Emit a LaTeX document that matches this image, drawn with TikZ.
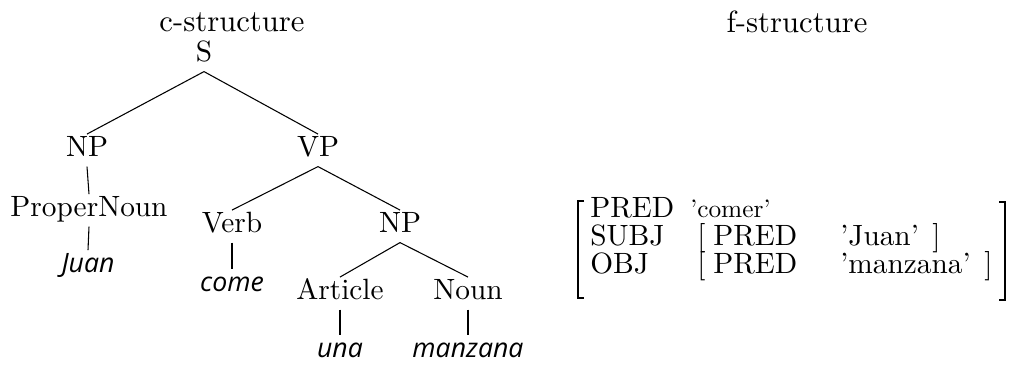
\documentclass[tikz,border=0pt]{standalone}
\usepackage{fontspec}
\setmainfont{lmroman10-regular}[Extension=.otf]
\newfontfamily\leaffont{Open Sans}
\usepackage{tikz}
\usetikzlibrary{positioning}

\tikzset{
  cat/.style={anchor=base, inner sep=2pt, text height=15pt, text depth=5pt, font=\fontsize{22}{26}\selectfont},
  leaf/.style={anchor=base, inner sep=2pt, text height=15pt, text depth=4pt, font=\leaffont\itshape\fontsize{20}{24}\selectfont},
  title/.style={anchor=base, inner sep=0pt, font=\fontsize{23}{27}\selectfont},
  branch/.style={line width=0.8pt},
  feat/.style={anchor=base west, inner sep=0pt, font=\fontsize{22}{26}\selectfont},
  fval/.style={anchor=base west, inner sep=0pt, font=\fontsize{19}{22}\selectfont},
  brack/.style={line width=1pt}
}

\begin{document}
\begin{tikzpicture}[x=0.75pt,y=0.75pt,yscale=-1,xscale=1]
		\useasboundingbox (0,0) rectangle (1009,373);

		% Titles
		\draw (232,32) node [title] (ctitle) {c-structure};
		\draw (797,33) node [title] (ftitle) {f-structure};

		% c-structure: category nodes
		\draw (204,62) node [cat] (S) {S};
		\draw (87,157) node [cat] (NP) {NP};
		\draw (318,157) node [cat] (VP) {VP};
		\draw (89,217) node [cat] (PN) {ProperNoun};
		\draw (232,233) node [cat] (V) {Verb};
		\draw (400,233) node [cat] (NPo) {NP};
		\draw (340,300) node [cat] (Art) {Article};
		\draw (468,300) node [cat] (N) {Noun};

		% c-structure: words
		\draw (88,273) node [leaf] (juan) {Juan};
		\draw (232,292) node [leaf] (come) {come};
		\draw (340,358) node [leaf] (una) {una};
		\draw (468,358) node [leaf] (manzana) {manzana};

		% Branches
		\draw [branch] (S.south) -- (NP.north);
		\draw [branch] (S.south) -- (VP.north);
		\draw [branch] (NP.south) -- (PN.north);
		\draw [branch] (PN.south) -- (juan.north);
		\draw [branch] (VP.south) -- (V.north);
		\draw [branch] (VP.south) -- (NPo.north);
		\draw [branch] (V.south) -- (come.north);
		\draw [branch] (NPo.south) -- (Art.north);
		\draw [branch] (NPo.south) -- (N.north);
		\draw [branch] (Art.south) -- (una.north);
		\draw [branch] (N.south) -- (manzana.north);

		% f-structure: outer brackets
		\draw [brack] (584,201) -- (578,201) -- (578,298) -- (584,298);
		\draw [brack] (999,202) -- (1005,202) -- (1005,300) -- (999,300);

		% f-structure: attribute-value rows
		\draw (590,218) node [feat] (pred) {PRED};
		\draw (690,218) node [fval] (comer) {'comer'};
		\draw (590,246) node [feat] (subj) {SUBJ};
		\draw (697,246) node [feat] (subjL) {[};
		\draw (713,246) node [feat] (subjPred) {PRED};
		\draw (840,246) node [feat] (juanVal) {'Juan'};
		\draw (932,246) node [feat] (subjR) {]};
		\draw (590,274) node [feat] (obj) {OBJ};
		\draw (697,274) node [feat] (objL) {[};
		\draw (713,274) node [feat] (objPred) {PRED};
		\draw (840,274) node [feat] (manzanaVal) {'manzana'};
		\draw (984,274) node [feat] (objR) {]};

\end{tikzpicture}
\end{document}
